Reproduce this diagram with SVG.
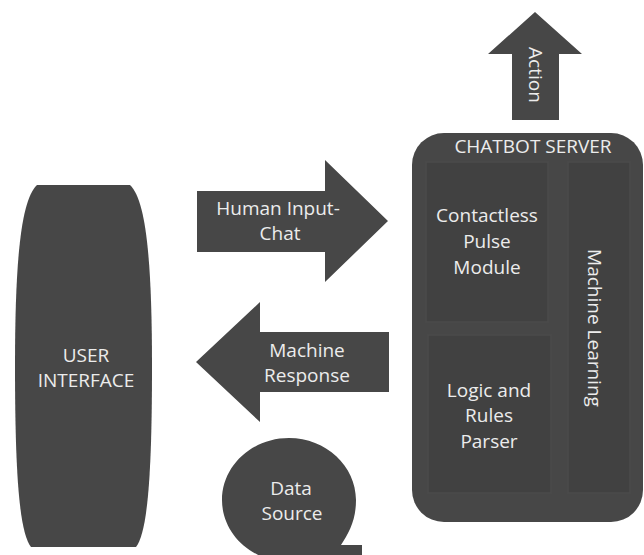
<svg xmlns="http://www.w3.org/2000/svg" width="644" height="555" viewBox="0 0 644 555">
  <style>
    .shape { fill: #474747; }
    .inner { fill: #414141; stroke: #4b4b4b; stroke-width: 1.5; }
    .lbl { font-family: "Open Sans", "Liberation Sans", sans-serif; font-size: 19px; fill: #ececec; text-anchor: middle; }
  </style>
  <rect x="0" y="0" width="644" height="555" fill="#ffffff"/>

  <g id="user-interface">
    <path class="shape" d="M37,185 H130 C146,200 152,260 152,366 C152,470 148,532 136,547 H31 C19,532 15,470 15,366 C15,260 21,200 37,185 Z"/>
    <text class="lbl" x="86" y="362">USER</text>
    <text class="lbl" x="86" y="387">INTERFACE</text>
  </g>

  <g id="chatbot-server">
    <rect class="shape" x="412" y="133" width="231" height="389" rx="32" ry="32"/>
    <text class="lbl" x="533" y="153">CHATBOT SERVER</text>
    <g id="contactless-pulse-module">
      <rect class="inner" x="426" y="162" width="122" height="160"/>
      <text class="lbl" x="487" y="222">Contactless</text>
      <text class="lbl" x="487" y="248">Pulse</text>
      <text class="lbl" x="487" y="274">Module</text>
    </g>
    <g id="logic-rules-parser">
      <rect class="inner" x="428" y="335" width="123" height="158"/>
      <text class="lbl" x="489" y="397">Logic and</text>
      <text class="lbl" x="489" y="422">Rules</text>
      <text class="lbl" x="489" y="448">Parser</text>
    </g>
    <g id="machine-learning">
      <rect class="inner" x="568" y="162" width="62" height="331"/>
      <text class="lbl" transform="translate(588,328) rotate(90)">Machine Learning</text>
    </g>
  </g>

  <g id="data-source">
    <path class="shape" d="M289,438 C326,438 356,466 356,500 C356,520 349,533 341,545 H362 V562 H289 C252,562 222,534 222,500 C222,466 252,438 289,438 Z"/>
    <text class="lbl" x="291" y="495">Data</text>
    <text class="lbl" x="292" y="520">Source</text>
  </g>

  <g id="connectors">
    <g id="arrow-human-input">
      <path class="shape" d="M197,191 H325 V160 L388,221 L325,282 V252 H197 Z"/>
      <text class="lbl" x="278" y="215">Human Input-</text>
      <text class="lbl" x="280" y="240">Chat</text>
    </g>
    <g id="arrow-machine-response">
      <path class="shape" d="M389,332 H260 V302 L196,362 L260,422 V392 H389 Z"/>
      <text class="lbl" x="307" y="357">Machine</text>
      <text class="lbl" x="307" y="382">Response</text>
    </g>
    <g id="arrow-action">
      <path class="shape" d="M512,120 V54 H488 L535,12 L582,54 H559 V120 Z"/>
      <text class="lbl" transform="translate(529,75) rotate(90)">Action</text>
    </g>
  </g>
</svg>
